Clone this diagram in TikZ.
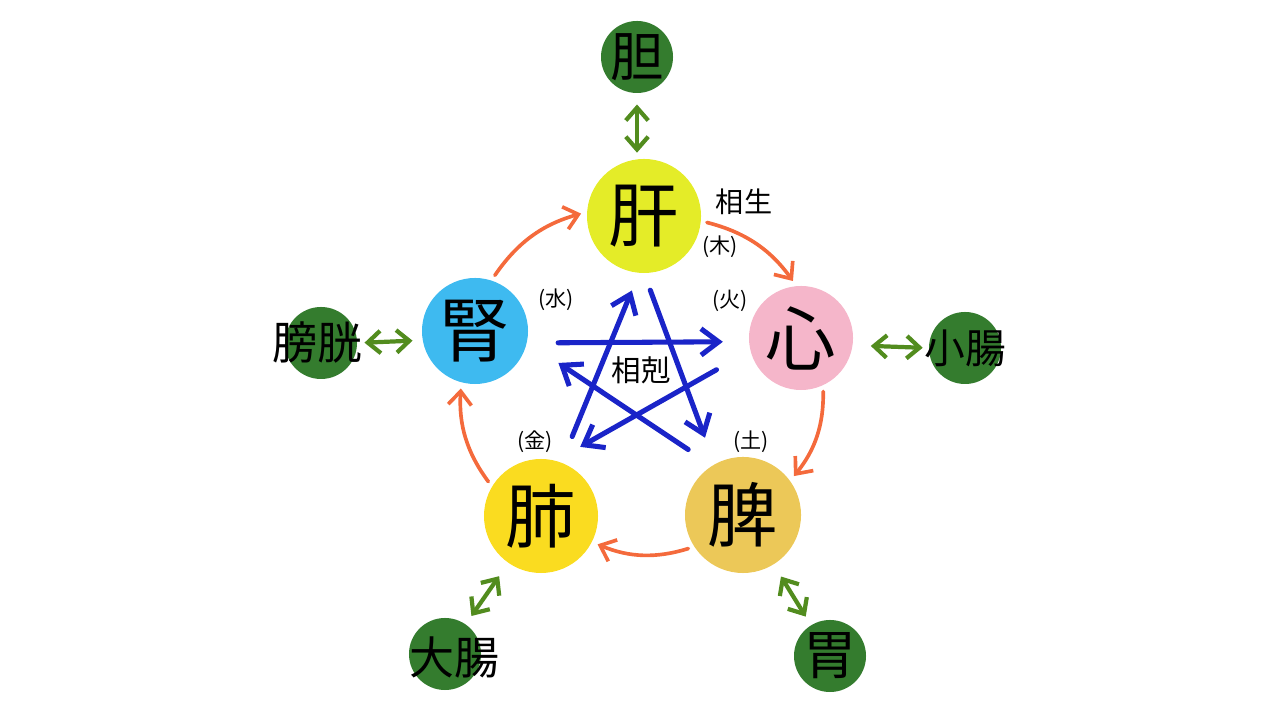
\documentclass[tikz,border=0pt]{standalone}
\usepackage{fontspec}
\setmainfont{Noto Sans CJK JP}
\usepackage{tikz}
\usetikzlibrary{arrows.meta}
\definecolor{gancol}{RGB}{228,236,40}
\definecolor{xincol}{RGB}{245,182,202}
\definecolor{picol}{RGB}{236,200,88}
\definecolor{feicol}{RGB}{250,220,32}
\definecolor{shencol}{RGB}{62,186,240}
\definecolor{fucol}{RGB}{52,124,46}
\definecolor{shengcol}{RGB}{244,106,60}
\definecolor{kecol}{RGB}{26,36,200}
\definecolor{biaocol}{RGB}{82,140,30}
\tikzset{
  zang/.style = {circle, inner sep=0pt, font=\fontsize{50pt}{50pt}\selectfont},
  fu/.style = {circle, inner sep=0pt, fill=fucol, minimum size=1.8cm},
  futext/.style = {inner sep=0pt, font=\fontsize{32pt}{32pt}\selectfont},
  xing/.style = {inner sep=0pt, font=\fontsize{15pt}{15pt}\selectfont},
  sheng/.style = {draw=shengcol, line width=2.6pt, line cap=round,
    -{Straight Barb[length=0.34cm,width=0.58cm]}, shorten <=0.15cm, shorten >=0.15cm},
  ke/.style = {draw=kecol, line width=3.6pt, line cap=round,
    -{Straight Barb[length=0.44cm,width=0.66cm]}},
  biao/.style = {draw=biaocol, line width=3pt, line cap=round,
    {Straight Barb[length=0.32cm,width=0.56cm]}-{Straight Barb[length=0.32cm,width=0.56cm]}}
}
\newcommand{\Xing}[1]{(#1)}

\begin{document}
\begin{tikzpicture}[x=0.025cm,y=0.025cm]
\useasboundingbox (0,0) rectangle (1280,720);
% five zang
\node[zang, fill=gancol, minimum size=2.85cm] (gan) at (644,504) {肝};
\node[zang, fill=xincol, minimum size=2.6cm] (xin) at (801,382) {心};
\node[zang, fill=picol, minimum size=2.9cm] (pi) at (743,205) {脾};
\node[zang, fill=feicol, minimum size=2.85cm] (fei) at (541,204) {肺};
\node[zang, fill=shencol, minimum size=2.65cm] (shen) at (475,389) {腎};

% fu
\node[fu] (dan) at (637,663) {};
\node[futext, font=\fontsize{38pt}{38pt}\selectfont] (dan-t) at (dan) {胆};
\node[fu] (xiaochang) at (965,372) {};
\node[futext, font=\fontsize{29pt}{29pt}\selectfont] (xiaochang-t) at (xiaochang) {小腸};
\node[fu] (wei) at (830,64) {};
\node[futext, font=\fontsize{38pt}{38pt}\selectfont] (wei-t) at (wei) {胃};
\node[fu] (dachang) at (445,66) {};
\node[futext] (dachang-t) at (454,63) {大腸};
\node[fu] (pangguang) at (321,377) {};
\node[futext] (pangguang-t) at (317,377) {膀胱};

\node[xing] (mu) at (720,473) {\Xing{木}};
\node[xing] (huo) at (730,419) {\Xing{火}};
\node[xing] (shui) at (556,420) {\Xing{水}};
\node[xing] (jin) at (535,278) {\Xing{金}};
\node[xing] (tu) at (751,278) {\Xing{土}};
\node[inner sep=0pt, font=\fontsize{20pt}{20pt}\selectfont] (xiangsheng) at (744,518) {相生};
\node[inner sep=0pt, font=\fontsize{21pt}{21pt}\selectfont] (xiangke) at (641,350) {相剋};

% xiangsheng
\draw[sheng] (gan.-5) to[bend left=20] (xin.95);
\draw[sheng] (xin.-65) to[bend left=20] (pi.36);
\draw[sheng] (pi.213) to[bend left=20] (fei.-27);
\draw[sheng] (fei.149) to[bend left=20] (shen.-105);
\draw[sheng] (shen.72) to[bend left=20] (gan.176);

% xiangke
\draw[ke, shorten <=0.78cm, shorten >=0.65cm] (shen.-13) -- (xin.184);
\draw[ke, shorten <=0.45cm, shorten >=0.7cm] (gan.-90) -- (pi.119);
\draw[ke, shorten <=0.97cm, shorten >=0.7cm] (xin.194) -- (fei.75);
\draw[ke, shorten <=0.72cm, shorten >=0.94cm] (pi.122) -- (shen.-12);
\draw[ke, shorten <=0.7cm, shorten >=0.47cm] (fei.69) -- (gan.-95);

\draw[biao, shorten <=0.28cm, shorten >=0.15cm] (dan.south) -- (dan.south |- gan.north);
\draw[biao, shorten <=0.45cm, shorten >=0.15cm] (xin.-8) -- (xiaochang.180);
\draw[biao, shorten <=0.35cm, shorten >=0.25cm] (pi) -- (wei);
\draw[biao, shorten <=0.25cm, shorten >=0.4cm] (dachang) -- (fei);
\draw[biao, shorten <=0.18cm, shorten >=0.25cm] (pangguang.0) -- (shen.190);
\end{tikzpicture}
\end{document}
